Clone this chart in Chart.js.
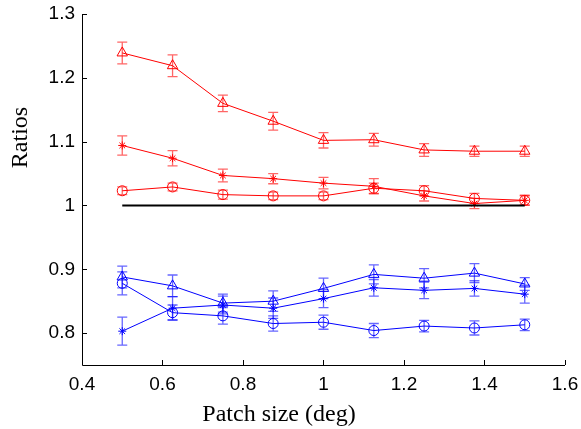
<!DOCTYPE html>
<html>
<head>
<meta charset="utf-8">
<script src="https://cdn.jsdelivr.net/npm/chart.js@4"></script>
<style>
  body { margin: 0; background: #fff; }
  canvas { display: block; }
</style>
</head>
<body>
<canvas id="c" width="581" height="429"></canvas>
<script>
// patch sizes (deg)
var sizes = [0.5, 0.625, 0.75, 0.875, 1.0, 1.125, 1.25, 1.375, 1.5];

// red series
var redTri = [1.239, 1.219, 1.160, 1.132, 1.102, 1.103, 1.087, 1.085, 1.085];
var redTriErr = [0.017, 0.017, 0.013, 0.014, 0.012, 0.010, 0.010, 0.008, 0.008];
var redStar = [1.094, 1.074, 1.047, 1.042, 1.035, 1.030, 1.015, 1.003, 1.008];
var redStarErr = [0.015, 0.012, 0.010, 0.008, 0.009, 0.012, 0.008, 0.008, 0.007];
var redCirc = [1.023, 1.029, 1.017, 1.015, 1.015, 1.027, 1.023, 1.011, 1.008];
var redCircErr = [0.006, 0.006, 0.007, 0.006, 0.006, 0.008, 0.008, 0.008, 0.008];

// blue series
var blueTri = [0.888, 0.874, 0.847, 0.850, 0.870, 0.892, 0.886, 0.894, 0.877];
var blueTriErr = [0.017, 0.017, 0.014, 0.016, 0.016, 0.015, 0.015, 0.015, 0.010];
var blueStar = [0.803, 0.839, 0.844, 0.839, 0.854, 0.871, 0.867, 0.870, 0.861];
var blueStarErr = [0.022, 0.018, 0.014, 0.016, 0.014, 0.013, 0.013, 0.012, 0.014];
var blueCirc = [0.878, 0.832, 0.827, 0.815, 0.817, 0.804, 0.811, 0.808, 0.813];
var blueCircErr = [0.018, 0.012, 0.013, 0.012, 0.011, 0.011, 0.009, 0.011, 0.009];

var refX = [0.5, 1.5];
var refY = [1, 1];

var xTicks = [0.4, 0.6, 0.8, 1.0, 1.2, 1.4, 1.6];
var yTicks = [0.8, 0.9, 1.0, 1.1, 1.2, 1.3];

var xTitle = 'Patch size (deg)';
var yTitle = 'Ratios';

function pts(xs, ys) {
    return xs.map(function (x, i) { return { x: x, y: ys[i] }; });
}

function series(ys, err, color, errColor, shape, r) {
    return {
        data: pts(sizes, ys),
        err: err,
        errColor: errColor,
        showLine: true,
        borderColor: color,
        backgroundColor: 'rgba(0,0,0,0)',
        borderWidth: 1,
        pointStyle: shape,
        pointRadius: r,
        pointBorderColor: color,
        pointBorderWidth: 1,
        pointBackgroundColor: 'rgba(0,0,0,0)'
    };
}

var red = 'rgb(255,0,0)', redE = 'rgba(255,0,0,0.6)';
var blue = 'rgb(0,0,255)', blueE = 'rgba(0,0,255,0.6)';

// error bars, inward tick marks, axis titles
var extras = {
    id: 'extras',
    beforeDatasetsDraw: function (chart) {
        var c = chart.ctx, xs = chart.scales.x, ys = chart.scales.y;
        c.save();
        c.lineWidth = 1.3;
        chart.data.datasets.forEach(function (ds) {
            if (!ds.err) return;
            c.strokeStyle = ds.errColor;
            ds.data.forEach(function (p, i) {
                var px = xs.getPixelForValue(p.x);
                var top = ys.getPixelForValue(p.y + ds.err[i]);
                var bot = ys.getPixelForValue(p.y - ds.err[i]);
                c.beginPath();
                c.moveTo(px, top); c.lineTo(px, bot);
                c.moveTo(px - 5, top); c.lineTo(px + 5, top);
                c.moveTo(px - 5, bot); c.lineTo(px + 5, bot);
                c.stroke();
            });
        });
        c.restore();
    },
    afterDraw: function (chart) {
        var c = chart.ctx, xs = chart.scales.x, ys = chart.scales.y, a = chart.chartArea;
        c.save();
        c.strokeStyle = '#000';
        c.lineWidth = 1;
        c.beginPath();
        c.moveTo(a.left + 0.5, a.top);
        c.lineTo(a.left + 0.5, a.bottom + 0.5);
        c.lineTo(a.right, a.bottom + 0.5);
        xTicks.forEach(function (t) {
            var px = Math.round(xs.getPixelForValue(t)) + 0.5;
            c.moveTo(px, a.bottom); c.lineTo(px, a.bottom - 5);
        });
        yTicks.forEach(function (t) {
            var py = Math.round(ys.getPixelForValue(t)) + 0.5;
            c.moveTo(a.left, py); c.lineTo(a.left + 5, py);
        });
        c.stroke();

        c.fillStyle = '#000';
        c.font = '24px "Liberation Serif"';
        c.textAlign = 'center';
        c.textBaseline = 'alphabetic';
        c.fillText(xTitle, 279, 421);
        c.translate(27, 137.5);
        c.rotate(-Math.PI / 2);
        c.fillText(yTitle, 0, 0);
        c.restore();
    }
};

new Chart(document.getElementById('c'), {
    type: 'scatter',
    data: {
        datasets: [
            {
                data: pts(refX, refY),
                showLine: true,
                borderColor: '#000',
                borderWidth: 2,
                pointRadius: 0
            },
            series(redTri, redTriErr, red, redE, 'triangle', 6),
            series(redStar, redStarErr, red, redE, 'star', 4),
            series(redCirc, redCircErr, red, redE, 'circle', 5),
            series(blueTri, blueTriErr, blue, blueE, 'triangle', 6),
            series(blueStar, blueStarErr, blue, blueE, 'star', 4),
            series(blueCirc, blueCircErr, blue, blueE, 'circle', 5)
        ]
    },
    options: {
        responsive: false,
        animation: false,
        events: [],
        layout: { padding: { top: 14, right: 16, left: 0, bottom: 0 } },
        plugins: { legend: { display: false }, tooltip: { enabled: false } },
        scales: {
            x: {
                type: 'linear',
                min: 0.4,
                max: 1.6,
                afterBuildTicks: function (s) { s.ticks = xTicks.map(function (v) { return { value: v }; }); },
                afterFit: function (s) { s.height = 64; s.paddingLeft = 0; s.paddingRight = 0; },
                grid: { display: false, drawTicks: false },
                border: { display: false },
                ticks: {
                    color: '#000',
                    padding: 8,
                    font: { family: 'Liberation Sans', size: 19 },
                    callback: function (v) { return String(+v.toFixed(2)); }
                }
            },
            y: {
                type: 'linear',
                min: 0.75,
                max: 1.3,
                afterBuildTicks: function (s) { s.ticks = yTicks.map(function (v) { return { value: v }; }); },
                afterFit: function (s) { s.width = 82; s.paddingTop = 0; s.paddingBottom = 0; },
                grid: { display: false, drawTicks: false },
                border: { display: false },
                ticks: {
                    color: '#000',
                    padding: 7,
                    font: { family: 'Liberation Sans', size: 19 },
                    callback: function (v) { return String(+v.toFixed(2)); }
                }
            }
        }
    },
    plugins: [extras]
});
</script>
</body>
</html>
